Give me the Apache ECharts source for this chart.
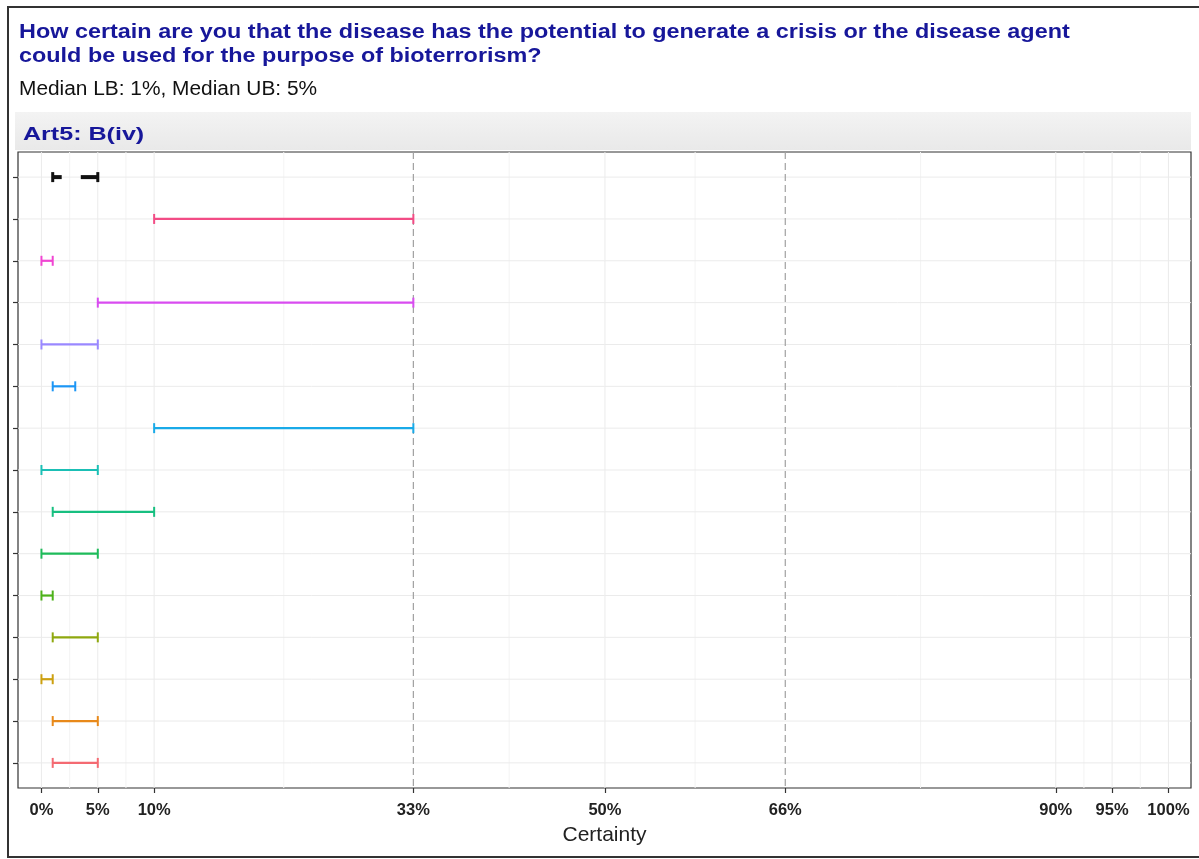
<!DOCTYPE html>
<html>
<head>
<meta charset="utf-8">
<script src="https://cdn.jsdelivr.net/npm/echarts@6/dist/echarts.min.js"></script>
<style>html,body{margin:0;padding:0;background:#fff}#c{width:1199px;height:859px}</style>
</head>
<body>
<div id="c"></div>
<script>
// ---- data ----
const titleLines = ['How certain are you that the disease has the potential to generate a crisis or the disease agent',
                    'could be used for the purpose of bioterrorism?'];
const subtitle = 'Median LB: 1%, Median UB: 5%';
const stripLabel = 'Art5: B(iv)';
const axisName = 'Certainty';
// row 0 is the median interval, rows 1..14 are individual experts (top to bottom)
const lowerBounds = [1, 10, 0, 5, 0, 1, 10, 0, 1, 0, 0, 1, 0, 1, 1];
const upperBounds = [5, 33, 1, 33, 5, 3, 33, 5, 10, 5, 1, 5, 1, 5, 5];
const xTicks = [0, 5, 10, 33, 50, 66, 90, 95, 100];
const minorTicks = [2.5, 7.5, 21.5, 41.5, 58, 78, 92.5, 97.5];
const dashedTicks = [33, 66];
// ---- styles ----
const colors = ['#111111', '#F24C85', '#F045D2', '#D94CF0', '#9A88FF', '#1C96F5', '#19AAE8',
                '#1BBFB5', '#17BF80', '#1EBB5A', '#4DB21A', '#8FA80F', '#CCA010', '#E8891A', '#F46A72'];
const FONT = '"Liberation Sans", Arial, sans-serif';
const TITLE_COLOR = '#17179a';

const rows = lowerBounds.map((_, i) => i);
const yMin = -0.6, yMax = rows.length - 1 + 0.6;
const xMin = -2.08, xMax = 102;

const chart = echarts.init(document.getElementById('c'), null, {renderer: 'canvas'});

function vLine(v, api, style) {
  const a = api.coord([v, yMin]), b = api.coord([v, yMax]);
  return {type: 'line', shape: {x1: a[0], y1: a[1], x2: b[0], y2: b[1]}, style: style, silent: true};
}

const option = {
  animation: false,
  backgroundColor: '#fff',
  grid: {left: 18, right: 8, top: 152, bottom: 71, show: true, borderColor: '#333', borderWidth: 1.2, backgroundColor: 'transparent'},
  xAxis: {
    type: 'value', min: xMin, max: xMax,
    axisLine: {show: false, onZero: false},
    splitLine: {show: false},
    axisTick: {show: true, customValues: xTicks, length: 5, lineStyle: {color: '#333', width: 1.2}},
    axisLabel: {customValues: xTicks, formatter: v => v + '%', fontFamily: FONT, fontWeight: 'bold', fontSize: 16.5, color: '#222', margin: 14},
    name: axisName, nameLocation: 'middle', nameGap: 37,
    nameTextStyle: {fontFamily: FONT, fontSize: 21, color: '#222'}
  },
  yAxis: {
    type: 'value', inverse: true, min: yMin, max: yMax,
    axisLine: {show: false, onZero: false},
    splitLine: {show: false},
    axisTick: {show: true, customValues: rows, length: 5, lineStyle: {color: '#333', width: 1.2}},
    axisLabel: {show: false}
  },
  graphic: [
    {type: 'rect', shape: {x: 8, y: 7, width: 1200, height: 850}, style: {fill: 'none', stroke: '#333', lineWidth: 2}, z: -10},
    {type: 'rect', shape: {x: 15, y: 112, width: 1176, height: 38}, style: {fill: {type: 'linear', x: 0, y: 0, x2: 0, y2: 1, colorStops: [{offset: 0, color: '#f3f3f3'}, {offset: 1, color: '#e9e9e9'}]}}, z: -9},
    {type: 'text', x: 19, y: 32, scaleX: 1.17, style: {text: titleLines[0], font: 'bold 20px ' + FONT, fill: TITLE_COLOR, textVerticalAlign: 'middle'}},
    {type: 'text', x: 19, y: 56, scaleX: 1.17, style: {text: titleLines[1], font: 'bold 20px ' + FONT, fill: TITLE_COLOR, textVerticalAlign: 'middle'}},
    {type: 'text', x: 19, y: 90, scaleX: 1.07, style: {text: subtitle, font: '19.5px ' + FONT, fill: '#111', textVerticalAlign: 'middle'}},
    {type: 'text', x: 23, y: 135, scaleX: 1.32, style: {text: stripLabel, font: 'bold 19px ' + FONT, fill: TITLE_COLOR, textVerticalAlign: 'middle'}}
  ],
  series: [
    {
      type: 'custom', name: 'minorGrid', silent: true, z: 1,
      data: minorTicks.map(v => [v]),
      renderItem: (p, api) => vLine(api.value(0), api, {stroke: '#f4f4f4', lineWidth: 1})
    },
    {
      type: 'custom', name: 'majorGrid', silent: true, z: 1,
      data: xTicks.filter(v => dashedTicks.indexOf(v) < 0).map(v => [v]),
      renderItem: (p, api) => vLine(api.value(0), api, {stroke: '#ebebeb', lineWidth: 1})
    },
    {
      type: 'custom', name: 'rowGrid', silent: true, z: 1,
      data: rows.map(r => [r]),
      renderItem: (p, api) => {
        const r = api.value(0);
        const a = api.coord([xMin, r]), b = api.coord([xMax, r]);
        return {type: 'line', shape: {x1: a[0], y1: a[1], x2: b[0], y2: b[1]}, style: {stroke: '#ebebeb', lineWidth: 1}};
      }
    },
    {
      type: 'custom', name: 'dashed', silent: true, z: 2,
      data: dashedTicks.map(v => [v]),
      renderItem: (p, api) => vLine(api.value(0), api, {stroke: '#a0a0a0', lineWidth: 1.2, lineDash: [7, 4]})
    },
    {
      type: 'custom', name: 'intervals', z: 5,
      data: rows.map(i => [lowerBounds[i], upperBounds[i], i]),
      renderItem: (params, api) => {
        const i = params.dataIndex;
        const lo = api.coord([api.value(0), api.value(2)]);
        const hi = api.coord([api.value(1), api.value(2)]);
        const c = colors[i];
        if (i === 0) {
          // median interval: thick caps with short stubs
          const w = 4, h = 5;
          return {type: 'group', children: [
            {type: 'line', shape: {x1: lo[0], y1: lo[1], x2: lo[0] + 9, y2: lo[1]}, style: {stroke: c, lineWidth: w}},
            {type: 'line', shape: {x1: lo[0], y1: lo[1] - h, x2: lo[0], y2: lo[1] + h}, style: {stroke: c, lineWidth: 3}},
            {type: 'line', shape: {x1: hi[0] - 17, y1: hi[1], x2: hi[0], y2: hi[1]}, style: {stroke: c, lineWidth: w}},
            {type: 'line', shape: {x1: hi[0], y1: hi[1] - h, x2: hi[0], y2: hi[1] + h}, style: {stroke: c, lineWidth: 3}}
          ]};
        }
        const h = 5;
        return {type: 'group', children: [
          {type: 'line', shape: {x1: lo[0], y1: lo[1], x2: hi[0], y2: hi[1]}, style: {stroke: c, lineWidth: 2.2}},
          {type: 'line', shape: {x1: lo[0], y1: lo[1] - h, x2: lo[0], y2: lo[1] + h}, style: {stroke: c, lineWidth: 2}},
          {type: 'line', shape: {x1: hi[0], y1: hi[1] - h, x2: hi[0], y2: hi[1] + h}, style: {stroke: c, lineWidth: 2}}
        ]};
      }
    }
  ]
};
chart.setOption(option);
</script>
</body>
</html>
